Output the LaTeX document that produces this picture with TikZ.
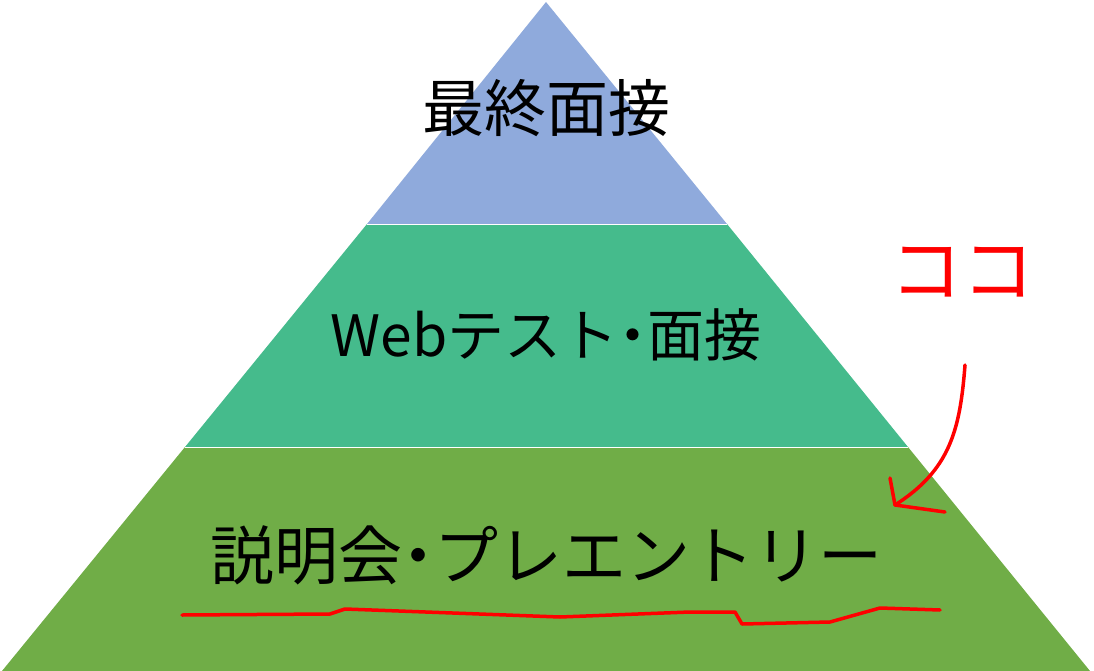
\documentclass[tikz,border=0pt]{standalone}
\usepackage{fontspec}
\newfontfamily\cjk{Noto Sans CJK JP}
\begin{document}
\begin{tikzpicture}[x=1pt,y=-1pt,
  lbl/.style={font=\cjk, text=black, inner sep=0pt},
  redink/.style={draw=red, line width=3.5pt, line cap=round, line join=round}]
\useasboundingbox (0,0) rectangle (1094,671);
\fill[fill={rgb,255:red,143;green,170;blue,220}] (546,2) -- (727,224) -- (367,224) -- cycle;
\fill[fill={rgb,255:red,69;green,187;blue,140}] (367,224) -- (727,224) -- (908,447) -- (185,447) -- cycle;
\fill[fill={rgb,255:red,112;green,173;blue,71}] (185,447) -- (908,447) -- (1090,671) -- (2,671) -- cycle;
\draw[white, line width=1pt] (367,224) -- (727,224) (185,447) -- (908,447);
\node[lbl, font=\cjk\fontsize{62}{62}\selectfont] (t1) at (546,108) {最終面接};
\node[lbl, font=\cjk\fontsize{57}{57}\selectfont] (t2) at (546,335) {Webテスト{\kern-0.25em}・{\kern-0.25em}面接};
\node[lbl, font=\cjk\fontsize{64}{64}\selectfont] (t3) at (546,555) {説明会{\kern-0.25em}・{\kern-0.25em}プレエントリー};
\node[lbl, text=red, font=\cjk\fontsize{72}{72}\selectfont] (koko) at (962,272) {ココ};
\coordinate (a0) at (965,365);
\coordinate (a1) at (895,505);
\draw[redink] (a0) .. controls (960,430) and (950,470) .. (a1);
\draw[redink] (a1) -- (890,478);
\draw[redink] (a1) -- (945,512);
\coordinate (u0) at (182,615);
\coordinate (u1) at (940,610);
\draw[redink] (u0) -- (330,614) -- (345,609) -- (560,617) -- (690,612) -- (735,612) -- (742,624) -- (830,622) -- (880,608) -- (u1);
\end{tikzpicture}
\end{document}
